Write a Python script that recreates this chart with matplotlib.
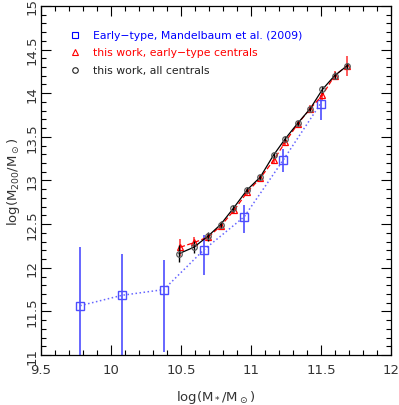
import matplotlib
matplotlib.use('Agg')
import matplotlib.pyplot as plt
from matplotlib.ticker import MultipleLocator

# Mandelbaum et al. (2009), early-type
mand_x = [9.78, 10.08, 10.377, 10.663, 10.951, 11.23, 11.497]
mand_y = [11.566, 11.685, 11.75, 12.205, 12.583, 13.233, 13.88]
mand_lo = [0.9, 0.9, 0.71, 0.287, 0.187, 0.137, 0.19]
mand_hi = [0.669, 0.47, 0.34, 0.172, 0.137, 0.123, 0.10]

# this work, early-type centrals
et_x = [10.494, 10.596, 10.696, 10.785, 10.88, 10.973, 11.068, 11.161,
        11.245, 11.333, 11.423, 11.509, 11.597, 11.685]
et_y = [12.235, 12.29, 12.354, 12.48, 12.66, 12.866, 13.03, 13.23,
        13.44, 13.646, 13.822, 13.975, 14.20, 14.312]
et_err = [0.10, 0.06, 0.05, 0.04, 0.04, 0.04, 0.03, 0.04,
          0.04, 0.03, 0.04, 0.05, 0.05, 0.11]

# this work, all centrals
all_x = [10.487, 10.592, 10.692, 10.783, 10.875, 10.973, 11.066, 11.161,
         11.245, 11.333, 11.423, 11.511, 11.597, 11.685]
all_y = [12.163, 12.235, 12.361, 12.495, 12.683, 12.893, 13.038, 13.29,
         13.478, 13.654, 13.822, 14.044, 14.20, 14.312]
all_err = [0.10, 0.07, 0.05, 0.04, 0.04, 0.03, 0.03, 0.03,
           0.03, 0.03, 0.03, 0.04, 0.04, 0.03]

x_ticks = [9.5, 10, 10.5, 11, 11.5, 12]
x_labels = ['9.5', '10', '10.5', '11', '11.5', '12']
y_ticks = [11, 11.5, 12, 12.5, 13, 13.5, 14, 14.5, 15]
y_labels = ['11', '11.5', '12', '12.5', '13', '13.5', '14', '14.5', '15']

fig = plt.figure(figsize=(3.99, 4.06), dpi=100)
ax = fig.add_axes([0.1028, 0.123, 0.877, 0.86])

ax.errorbar(mand_x, mand_y, yerr=[mand_lo, mand_hi], fmt='s', ms=6,
            mfc='none', mec=(0.3, 0.3, 1.0), mew=1.0,
            ecolor=(0.3, 0.3, 1.0), elinewidth=1.2, capsize=0, zorder=2)
ax.plot(mand_x, mand_y, ':', color=(0.4, 0.4, 1.0), lw=1.1, zorder=2)

ax.errorbar(et_x, et_y, yerr=et_err, fmt='^', ms=4.5, mfc='none',
            mec='red', mew=0.9, ecolor=(1.0, 0.3, 0.3), elinewidth=1.3,
            capsize=0, zorder=3)
ax.plot(et_x, et_y, '--', color='red', lw=0.9, dashes=(4, 2), zorder=3)

ax.errorbar(all_x, all_y, yerr=all_err, fmt='o', ms=4, mfc='none',
            mec=(0.35, 0.35, 0.35), mew=0.9, ecolor='black', elinewidth=1.0,
            capsize=0, zorder=4)
ax.plot(all_x, all_y, '-', color='black', lw=0.9, zorder=4)

ax.set_xlim(9.5, 12)
ax.set_ylim(11, 15)
ax.set_xticks(x_ticks)
ax.set_xticklabels(x_labels)
ax.set_yticks(y_ticks)
ax.set_yticklabels(y_labels, rotation=90, va='center')
ax.xaxis.set_minor_locator(MultipleLocator(0.1))
ax.yaxis.set_minor_locator(MultipleLocator(0.1))
ax.tick_params(which='both', direction='in', top=True, right=True,
               labelsize=9.5, colors='black')
ax.tick_params(which='major', length=7, width=0.8)
ax.tick_params(which='minor', length=3.5, width=0.8)
ax.tick_params(axis='y', pad=2)
ax.tick_params(axis='x', pad=6)
for lbl in ax.get_xticklabels() + ax.get_yticklabels():
    lbl.set_color('#333333')
for s in ax.spines.values():
    s.set_linewidth(0.9)

ax.set_xlabel(r'log(M$_*$/M$_\odot$)', fontsize=9.5, color='#333333', labelpad=8)
ax.set_ylabel(r'log(M$_{200}$/M$_\odot$)', fontsize=9.5, color='#333333', labelpad=2)

# legend, drawn by hand
leg_y = [14.67, 14.47, 14.27]
leg_labels = ['Early\u2212type, Mandelbaum et al. (2009)',
              'this work, early\u2212type centrals',
              'this work, all centrals']
leg_colors = ['blue', 'red', '#222222']
leg_markers = ['s', '^', 'o']
for yy, lab, c, m in zip(leg_y, leg_labels, leg_colors, leg_markers):
    ax.plot([9.74], [yy], m, ms=4, mfc='none', mec=c, mew=0.8)
    ax.text(9.87, yy, lab, color=c, fontsize=7.8, va='center', ha='left')

fig.savefig('out.png', dpi=100)
